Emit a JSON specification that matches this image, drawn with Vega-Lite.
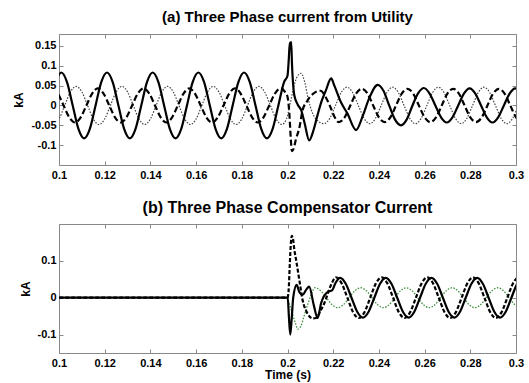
{
"$schema": "https://vega.github.io/schema/vega-lite/v6.json",
"padding": {"left": 12, "top": 9, "right": 5, "bottom": 2},
"spacing": 18,
"config": {
  "font": "Liberation Sans",
  "view": {"stroke": "#888", "strokeWidth": 1},
  "axis": {"labelFont": "Liberation Sans", "labelFontWeight": "bold", "labelFontSize": 11, "labelColor": "#000",
           "titleFont": "Liberation Sans", "titleFontWeight": "bold", "titleFontSize": 12, "titleColor": "#000",
           "domain": false, "grid": false, "tickColor": "#888", "tickSize": -4, "labelPadding": 8},
  "title": {"font": "Liberation Sans", "fontSize": 15, "fontWeight": "bold", "color": "#000", "anchor": "middle", "offset": 9}
},
"datasets": {
"t_a": [{"t":0.0985,"v":0.059},{"t":0.101,"v":0.083},{"t":0.1035,"v":0.059},{"t":0.106,"v":0},{"t":0.1085,"v":-0.059},{"t":0.111,"v":-0.083},{"t":0.1135,"v":-0.059},{"t":0.116,"v":0},
{"t":0.1185,"v":0.059},{"t":0.121,"v":0.083},{"t":0.1235,"v":0.059},{"t":0.126,"v":0},{"t":0.1285,"v":-0.059},{"t":0.131,"v":-0.083},{"t":0.1335,"v":-0.059},{"t":0.136,"v":0},
{"t":0.1385,"v":0.059},{"t":0.141,"v":0.083},{"t":0.1435,"v":0.059},{"t":0.146,"v":0},{"t":0.1485,"v":-0.059},{"t":0.151,"v":-0.083},{"t":0.1535,"v":-0.059},{"t":0.156,"v":0},
{"t":0.1585,"v":0.059},{"t":0.161,"v":0.083},{"t":0.1635,"v":0.059},{"t":0.166,"v":0},{"t":0.1685,"v":-0.059},{"t":0.171,"v":-0.083},{"t":0.1735,"v":-0.059},{"t":0.176,"v":0},
{"t":0.1785,"v":0.059},{"t":0.181,"v":0.083},{"t":0.1835,"v":0.059},{"t":0.186,"v":0},{"t":0.1885,"v":-0.059},{"t":0.191,"v":-0.083},{"t":0.1935,"v":-0.059},{"t":0.196,"v":0},
{"t":0.1985,"v":0.059},{"t":0.2,"v":0.075},{"t":0.2006,"v":0.12},{"t":0.201,"v":0.158},{"t":0.2013,"v":0.145},{"t":0.2016,"v":0.16},{"t":0.202,"v":0.1},{"t":0.203,"v":0.025},{"t":0.2045,"v":0.002},{"t":0.206,"v":-0.012},{"t":0.2075,"v":-0.045},{"t":0.2095,"v":-0.088},{"t":0.2115,"v":-0.06},{"t":0.2132,"v":-0.023},{"t":0.215,"v":0.012},{"t":0.2168,"v":0.038},{"t":0.2191,"v":0.068},{"t":0.2205,"v":0.05},{"t":0.2234,"v":0.008},{"t":0.2262,"v":-0.02},{"t":0.23,"v":-0.062},{"t":0.2329,"v":-0.027},{"t":0.2358,"v":0.019},{"t":0.2395,"v":0.052},{"t":0.242,"v":0.037},{"t":0.2445,"v":0},{"t":0.247,"v":-0.035},{"t":0.2497,"v":-0.05},{"t":0.2522,"v":-0.035},{"t":0.2547,"v":0},{"t":0.2572,"v":0.031},{"t":0.2597,"v":0.044},
{"t":0.2622,"v":0.03},{"t":0.2647,"v":0},{"t":0.2672,"v":-0.03},{"t":0.2697,"v":-0.043},{"t":0.2722,"v":-0.03},{"t":0.2747,"v":0},{"t":0.2772,"v":0.03},{"t":0.2797,"v":0.043},{"t":0.2822,"v":0.03},{"t":0.2847,"v":0},{"t":0.2872,"v":-0.03},{"t":0.2897,"v":-0.043},{"t":0.2922,"v":-0.03},{"t":0.2947,"v":0},{"t":0.2972,"v":0.03},{"t":0.2997,"v":0.043},{"t":0.3022,"v":0.03}],
"t_b": [{"t":0.097,"v":0.043},{"t":0.0995,"v":0.03},{"t":0.102,"v":0},{"t":0.1045,"v":-0.03},{"t":0.107,"v":-0.043},{"t":0.1095,"v":-0.03},{"t":0.112,"v":0},{"t":0.1145,"v":0.03},
{"t":0.117,"v":0.043},{"t":0.1195,"v":0.03},{"t":0.122,"v":0},{"t":0.1245,"v":-0.03},{"t":0.127,"v":-0.043},{"t":0.1295,"v":-0.03},{"t":0.132,"v":0},{"t":0.1345,"v":0.03},
{"t":0.137,"v":0.043},{"t":0.1395,"v":0.03},{"t":0.142,"v":0},{"t":0.1445,"v":-0.03},{"t":0.147,"v":-0.043},{"t":0.1495,"v":-0.03},{"t":0.152,"v":0},{"t":0.1545,"v":0.03},
{"t":0.157,"v":0.043},{"t":0.1595,"v":0.03},{"t":0.162,"v":0},{"t":0.1645,"v":-0.03},{"t":0.167,"v":-0.043},{"t":0.1695,"v":-0.03},{"t":0.172,"v":0},{"t":0.1745,"v":0.03},
{"t":0.177,"v":0.043},{"t":0.1795,"v":0.03},{"t":0.182,"v":0},{"t":0.1845,"v":-0.03},{"t":0.187,"v":-0.043},{"t":0.1895,"v":-0.03},{"t":0.192,"v":0},{"t":0.1945,"v":0.03},
{"t":0.197,"v":0.043},{"t":0.1988,"v":0.035},{"t":0.2,"v":0.022},{"t":0.2008,"v":-0.02},{"t":0.2014,"v":-0.08},{"t":0.2019,"v":-0.115},{"t":0.2026,"v":-0.11},{"t":0.2037,"v":-0.085},{"t":0.2052,"v":-0.056},{"t":0.2066,"v":-0.012},{"t":0.2085,"v":0.01},{"t":0.2113,"v":0.03},{"t":0.2145,"v":0.037},{"t":0.2168,"v":0.02},{"t":0.219,"v":-0.007},{"t":0.2205,"v":-0.028},
{"t":0.2225,"v":-0.042},{"t":0.225,"v":-0.03},{"t":0.2275,"v":0},{"t":0.23,"v":0.03},{"t":0.2325,"v":0.042},{"t":0.235,"v":0.03},{"t":0.2375,"v":0},{"t":0.24,"v":-0.03},
{"t":0.2425,"v":-0.042},{"t":0.245,"v":-0.03},{"t":0.2475,"v":0},{"t":0.25,"v":0.03},{"t":0.2525,"v":0.042},{"t":0.255,"v":0.03},{"t":0.2575,"v":0},{"t":0.26,"v":-0.03},
{"t":0.2625,"v":-0.042},{"t":0.265,"v":-0.03},{"t":0.2675,"v":0},{"t":0.27,"v":0.03},{"t":0.2725,"v":0.042},{"t":0.275,"v":0.03},{"t":0.2775,"v":0},{"t":0.28,"v":-0.03},
{"t":0.2825,"v":-0.042},{"t":0.285,"v":-0.03},{"t":0.2875,"v":0},{"t":0.29,"v":0.03},{"t":0.2925,"v":0.042},{"t":0.295,"v":0.03},{"t":0.2975,"v":0},{"t":0.3,"v":-0.03},{"t":0.3025,"v":-0.042}],
"t_c": [{"t":0.0975,"v":-0.048},{"t":0.1,"v":-0.034},{"t":0.1025,"v":0},{"t":0.105,"v":0.034},{"t":0.1075,"v":0.048},{"t":0.11,"v":0.034},{"t":0.1125,"v":0},{"t":0.115,"v":-0.034},
{"t":0.1175,"v":-0.048},{"t":0.12,"v":-0.034},{"t":0.1225,"v":0},{"t":0.125,"v":0.034},{"t":0.1275,"v":0.048},{"t":0.13,"v":0.034},{"t":0.1325,"v":0},{"t":0.135,"v":-0.034},
{"t":0.1375,"v":-0.048},{"t":0.14,"v":-0.034},{"t":0.1425,"v":0},{"t":0.145,"v":0.034},{"t":0.1475,"v":0.048},{"t":0.15,"v":0.034},{"t":0.1525,"v":0},{"t":0.155,"v":-0.034},
{"t":0.1575,"v":-0.048},{"t":0.16,"v":-0.034},{"t":0.1625,"v":0},{"t":0.165,"v":0.034},{"t":0.1675,"v":0.048},{"t":0.17,"v":0.034},{"t":0.1725,"v":0},{"t":0.175,"v":-0.034},
{"t":0.1775,"v":-0.048},{"t":0.18,"v":-0.034},{"t":0.1825,"v":0},{"t":0.185,"v":0.034},{"t":0.1875,"v":0.048},{"t":0.19,"v":0.034},{"t":0.1925,"v":0},{"t":0.195,"v":-0.034},
{"t":0.1975,"v":-0.048},{"t":0.1995,"v":-0.035},{"t":0.201,"v":0},{"t":0.2025,"v":0.04},{"t":0.204,"v":0.07},{"t":0.2059,"v":0.081},{"t":0.2075,"v":0.06},{"t":0.209,"v":0.018},{"t":0.211,"v":-0.02},{"t":0.2135,"v":-0.04},
{"t":0.216,"v":-0.046},{"t":0.2185,"v":-0.0325},{"t":0.221,"v":0},{"t":0.2235,"v":0.0325},{"t":0.226,"v":0.046},{"t":0.2285,"v":0.0325},{"t":0.231,"v":0},{"t":0.2335,"v":-0.0325},
{"t":0.236,"v":-0.046},{"t":0.2385,"v":-0.0325},{"t":0.241,"v":0},{"t":0.2435,"v":0.0325},{"t":0.246,"v":0.046},{"t":0.2485,"v":0.0325},{"t":0.251,"v":0},{"t":0.2535,"v":-0.0325},
{"t":0.256,"v":-0.046},{"t":0.2585,"v":-0.0325},{"t":0.261,"v":0},{"t":0.2635,"v":0.0325},{"t":0.266,"v":0.046},{"t":0.2685,"v":0.0325},{"t":0.271,"v":0},{"t":0.2735,"v":-0.0325},
{"t":0.276,"v":-0.046},{"t":0.2785,"v":-0.0325},{"t":0.281,"v":0},{"t":0.2835,"v":0.0325},{"t":0.286,"v":0.046},{"t":0.2885,"v":0.0325},{"t":0.291,"v":0},{"t":0.2935,"v":-0.0325},
{"t":0.296,"v":-0.046},{"t":0.2985,"v":-0.0325},{"t":0.301,"v":0},{"t":0.3035,"v":0.0325}],
"b_a": [{"t":0.0975,"v":0},{"t":0.2001,"v":0},{"t":0.2006,"v":-0.05},{"t":0.2012,"v":-0.1},{"t":0.2018,"v":-0.06},{"t":0.2025,"v":0},{"t":0.204,"v":0.035},{"t":0.2052,"v":0.015},{"t":0.2066,"v":0.008},{"t":0.2082,"v":0.022},{"t":0.2095,"v":0.03},{"t":0.2115,"v":-0.02},{"t":0.2132,"v":-0.055},{"t":0.2147,"v":-0.015},{"t":0.2176,"v":0.016},{"t":0.2195,"v":0.02},{"t":0.221,"v":0.04},{"t":0.223,"v":0.054},
{"t":0.2255,"v":0.038},{"t":0.228,"v":0},{"t":0.2305,"v":-0.038},{"t":0.233,"v":-0.054},{"t":0.2355,"v":-0.038},{"t":0.238,"v":0},{"t":0.2405,"v":0.038},{"t":0.243,"v":0.054},{"t":0.2455,"v":0.038},{"t":0.248,"v":0},{"t":0.2505,"v":-0.038},{"t":0.253,"v":-0.054},{"t":0.2555,"v":-0.038},{"t":0.258,"v":0},{"t":0.2605,"v":0.038},{"t":0.263,"v":0.054},{"t":0.2655,"v":0.038},{"t":0.268,"v":0},{"t":0.2705,"v":-0.038},{"t":0.273,"v":-0.054},{"t":0.2755,"v":-0.038},{"t":0.278,"v":0},{"t":0.2805,"v":0.038},{"t":0.283,"v":0.054},{"t":0.2855,"v":0.038},{"t":0.288,"v":0},{"t":0.2905,"v":-0.038},{"t":0.293,"v":-0.054},{"t":0.2955,"v":-0.038},{"t":0.298,"v":0},{"t":0.3005,"v":0.038},{"t":0.303,"v":0.054}],
"b_b": [{"t":0.0975,"v":0},{"t":0.2,"v":0},{"t":0.2005,"v":0.02},{"t":0.201,"v":0.09},{"t":0.2015,"v":0.15},{"t":0.2019,"v":0.168},{"t":0.2024,"v":0.16},{"t":0.203,"v":0.13},{"t":0.2037,"v":0.105},{"t":0.2052,"v":0.047},{"t":0.2066,"v":-0.006},{"t":0.2085,"v":-0.04},{"t":0.211,"v":-0.056},{"t":0.2125,"v":-0.055},{"t":0.2145,"v":-0.035},{"t":0.2161,"v":-0.015},{"t":0.219,"v":0.034},{"t":0.2212,"v":0.055},
{"t":0.2237,"v":0.039},{"t":0.2262,"v":0},{"t":0.2287,"v":-0.039},{"t":0.2312,"v":-0.055},{"t":0.2337,"v":-0.039},{"t":0.2362,"v":0},{"t":0.2387,"v":0.039},{"t":0.2412,"v":0.055},{"t":0.2437,"v":0.039},{"t":0.2462,"v":0},{"t":0.2487,"v":-0.039},{"t":0.2512,"v":-0.055},{"t":0.2537,"v":-0.039},{"t":0.2562,"v":0},{"t":0.2587,"v":0.039},{"t":0.2612,"v":0.055},{"t":0.2637,"v":0.039},{"t":0.2662,"v":0},{"t":0.2687,"v":-0.039},{"t":0.2712,"v":-0.055},{"t":0.2737,"v":-0.039},{"t":0.2762,"v":0},{"t":0.2787,"v":0.039},{"t":0.2812,"v":0.055},{"t":0.2837,"v":0.039},{"t":0.2862,"v":0},{"t":0.2887,"v":-0.039},{"t":0.2912,"v":-0.055},{"t":0.2937,"v":-0.039},{"t":0.2962,"v":0},{"t":0.2987,"v":0.039},{"t":0.3012,"v":0.055},{"t":0.3037,"v":0.039}],
"b_c": [{"t":0.0975,"v":0},{"t":0.2,"v":0},{"t":0.2005,"v":-0.01},{"t":0.202,"v":-0.04},{"t":0.2035,"v":-0.07},{"t":0.2045,"v":-0.085},{"t":0.2058,"v":-0.078},{"t":0.207,"v":-0.055},{"t":0.209,"v":-0.015},{"t":0.2105,"v":0.01},{"t":0.212,"v":0.027},
{"t":0.2145,"v":0.019},{"t":0.217,"v":0},{"t":0.2195,"v":-0.019},{"t":0.222,"v":-0.027},{"t":0.2245,"v":-0.019},{"t":0.227,"v":0},{"t":0.2295,"v":0.019},{"t":0.232,"v":0.027},{"t":0.2345,"v":0.019},{"t":0.237,"v":0},{"t":0.2395,"v":-0.019},{"t":0.242,"v":-0.027},{"t":0.2445,"v":-0.019},{"t":0.247,"v":0},{"t":0.2495,"v":0.019},{"t":0.252,"v":0.027},{"t":0.2545,"v":0.019},{"t":0.257,"v":0},{"t":0.2595,"v":-0.019},{"t":0.262,"v":-0.027},{"t":0.2645,"v":-0.019},{"t":0.267,"v":0},{"t":0.2695,"v":0.019},{"t":0.272,"v":0.027},{"t":0.2745,"v":0.019},{"t":0.277,"v":0},{"t":0.2795,"v":-0.019},{"t":0.282,"v":-0.027},{"t":0.2845,"v":-0.019},{"t":0.287,"v":0},{"t":0.2895,"v":0.019},{"t":0.292,"v":0.027},{"t":0.2945,"v":0.019},{"t":0.297,"v":0},{"t":0.2995,"v":-0.019},{"t":0.302,"v":-0.027}]
},
"vconcat": [
{
  "title": "(a) Three Phase current from Utility",
  "width": 457, "height": 131,
  "resolve": {"axis": {"x": "independent", "y": "independent"}},
  "layer": [
    {"data": {"name": "t_c"},
     "mark": {"type": "line", "color": "#444", "strokeWidth": 1.2, "strokeDash": [1.5, 1.5], "interpolate": "monotone", "clip": true},
     "encoding": {
       "x": {"field": "t", "type": "quantitative", "scale": {"domain": [0.1, 0.3], "nice": false, "zero": false},
             "axis": {"orient": "bottom", "title": null, "values": [0.1,0.12,0.14,0.16,0.18,0.2,0.22,0.24,0.26,0.28,0.3], "labelExpr": "'' + datum.value", "labelFlush": false}},
       "y": {"field": "v", "type": "quantitative", "scale": {"domain": [-0.15, 0.18], "nice": false, "zero": false},
             "axis": {"orient": "left", "title": "kA", "values": [-0.1,-0.05,0,0.05,0.1,0.15], "labelExpr": "'' + datum.value", "labelPadding": 7, "titlePadding": 5}}
     }},
    {"data": {"name": "t_b"},
     "mark": {"type": "line", "color": "#000", "strokeWidth": 2.2, "strokeDash": [6, 3], "interpolate": "monotone", "clip": true},
     "encoding": {
       "x": {"field": "t", "type": "quantitative", "axis": {"orient": "top", "labels": false, "title": null, "values": [0.1,0.12,0.14,0.16,0.18,0.2,0.22,0.24,0.26,0.28,0.3]}},
       "y": {"field": "v", "type": "quantitative", "axis": {"orient": "right", "labels": false, "title": null, "values": [-0.1,-0.05,0,0.05,0.1,0.15]}}
     }},
    {"data": {"name": "t_a"},
     "mark": {"type": "line", "color": "#000", "strokeWidth": 2.2, "interpolate": "monotone", "clip": true},
     "encoding": {
       "x": {"field": "t", "type": "quantitative", "axis": null},
       "y": {"field": "v", "type": "quantitative", "axis": null}
     }}
  ]
},
{
  "title": {"text": "(b) Three Phase Compensator Current", "fontSize": 16, "offset": 8},
  "width": 457, "height": 129,
  "resolve": {"axis": {"x": "independent", "y": "independent"}},
  "layer": [
    {"data": {"name": "b_c"},
     "mark": {"type": "line", "color": "#3f8f3f", "strokeWidth": 1.3, "strokeDash": [1.5, 1.5], "interpolate": "monotone", "clip": true},
     "encoding": {
       "x": {"field": "t", "type": "quantitative", "scale": {"domain": [0.1, 0.3], "nice": false, "zero": false},
             "axis": {"orient": "bottom", "title": "Time (s)", "titlePadding": 1, "values": [0.1,0.12,0.14,0.16,0.18,0.2,0.22,0.24,0.26,0.28,0.3], "labelExpr": "'' + datum.value", "labelFlush": false}},
       "y": {"field": "v", "type": "quantitative", "scale": {"domain": [-0.15, 0.2], "nice": false, "zero": false},
             "axis": {"orient": "left", "title": "kA", "values": [-0.1,0,0.1], "labelExpr": "'' + datum.value", "labelPadding": 7, "titlePadding": 5}}
     }},
    {"data": {"name": "b_b"},
     "mark": {"type": "line", "color": "#000", "strokeWidth": 2.2, "strokeDash": [4, 2], "interpolate": "monotone", "clip": true},
     "encoding": {
       "x": {"field": "t", "type": "quantitative", "axis": {"orient": "top", "labels": false, "title": null, "values": [0.1,0.12,0.14,0.16,0.18,0.2,0.22,0.24,0.26,0.28,0.3]}},
       "y": {"field": "v", "type": "quantitative", "axis": {"orient": "right", "labels": false, "title": null, "values": [-0.1,0,0.1]}}
     }},
    {"data": {"name": "b_a"},
     "mark": {"type": "line", "color": "#000", "strokeWidth": 2.2, "interpolate": "monotone", "clip": true},
     "encoding": {
       "x": {"field": "t", "type": "quantitative", "axis": null},
       "y": {"field": "v", "type": "quantitative", "axis": null}
     }}
  ]
}
]
}
